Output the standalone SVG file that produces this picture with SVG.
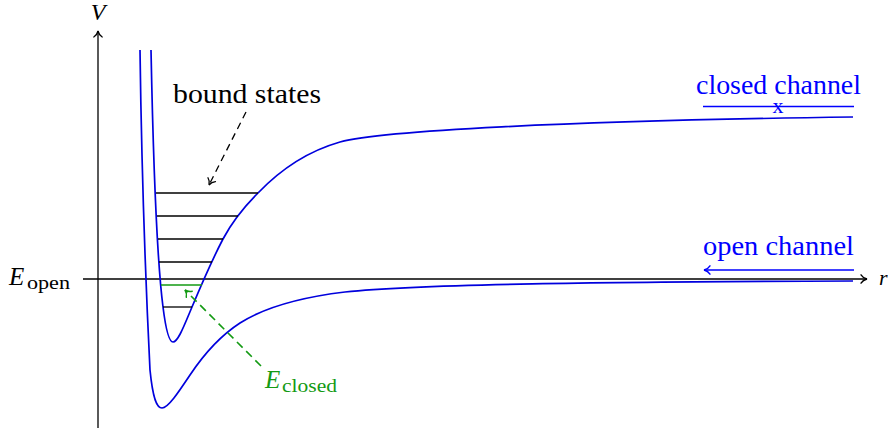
<svg xmlns="http://www.w3.org/2000/svg" width="888" height="435" viewBox="0 0 888 435" font-family="'Liberation Serif', 'DejaVu Serif', serif">
<style>
  text { font-family: "Liberation Serif", "Times New Roman", "DejaVu Serif", serif; }
  .ax { stroke: #000; stroke-width: 1.3; fill: none; }
  .curve { stroke: #0000dd; stroke-width: 1.7; fill: none; }
  .lvl { stroke: #000; stroke-width: 1.3; }
  .lvlg { stroke: #139a13; stroke-width: 1.6; }
  .blue { fill: #0000ff; }
  .green { fill: #139a13; }
  .dashk { stroke: #000; stroke-width: 1.3; stroke-dasharray: 7 5; fill: none; }
  .dashg { stroke: #139a13; stroke-width: 1.6; stroke-dasharray: 8 5; fill: none; }
</style>
<defs>
  <marker id="ak" viewBox="-8 -6 10 12" refX="0" refY="0" markerWidth="10" markerHeight="12" markerUnits="userSpaceOnUse" orient="auto">
    <path d="M-6,-4.2 C-4.5,-1.8 -1.8,-0.4 0,0 C-1.8,0.4 -4.5,1.8 -6,4.2" fill="none" stroke="#000" stroke-width="1.3" stroke-linecap="round"/>
  </marker>
  <marker id="ab" viewBox="-8 -6 10 12" refX="0" refY="0" markerWidth="10" markerHeight="12" markerUnits="userSpaceOnUse" orient="auto">
    <path d="M-6,-4.2 C-4.5,-1.8 -1.8,-0.4 0,0 C-1.8,0.4 -4.5,1.8 -6,4.2" fill="none" stroke="#0000ff" stroke-width="1.4" stroke-linecap="round"/>
  </marker>
  <marker id="ag" viewBox="-8 -6 10 12" refX="0" refY="0" markerWidth="10" markerHeight="12" markerUnits="userSpaceOnUse" orient="auto">
    <path d="M-6,-4.2 C-4.5,-1.8 -1.8,-0.4 0,0 C-1.8,0.4 -4.5,1.8 -6,4.2" fill="none" stroke="#139a13" stroke-width="1.5" stroke-linecap="round"/>
  </marker>
</defs>
<rect width="888" height="435" fill="#fff"/>

<g id="axes">
  <line class="ax" x1="98" y1="428" x2="98" y2="31" marker-end="url(#ak)"/>
  <line class="ax" x1="83" y1="279" x2="867" y2="279" marker-end="url(#ak)"/>
  <text x="98" y="20" font-size="24" font-style="italic" text-anchor="middle">V</text>
  <text x="879" y="285" font-size="22" font-style="italic">r</text>
  <text x="9" y="285" font-size="25" font-style="italic">E</text>
  <text x="27" y="289" font-size="19" textLength="43" lengthAdjust="spacingAndGlyphs">open</text>
</g>

<g id="open-channel-curve">
  <path class="curve" d="M140,50 C142,200 147,310 150,370 C153,400 157,408 162,408 C168,408 178,393 190,375 C204,354 220,336 240,323 C262,309 295,298 345,292 C420,284 600,282 853,281"/>
</g>

<g id="closed-channel-curve">
  <path class="curve" d="M151,50 C153,150 157,260 163,307 C165,323 168,342 173,342 C178,342 184,326 192,307 C200,288 212,260 223,239 C231,224 244,207 258,193 C280,170 305,152 340,142 C380,131 560,121 853,117"/>
</g>

<g id="bound-states">
  <line class="lvl" x1="156" y1="193" x2="258" y2="193"/>
  <line class="lvl" x1="157" y1="216" x2="238" y2="216"/>
  <line class="lvl" x1="158" y1="239" x2="223" y2="239"/>
  <line class="lvl" x1="159" y1="262" x2="212" y2="262"/>
  <line class="lvlg" x1="161" y1="285" x2="202" y2="285"/>
  <line class="lvl" x1="163" y1="307" x2="192" y2="307"/>
</g>

<g id="connectors">
  <line class="dashk" x1="246" y1="112" x2="209" y2="185" marker-end="url(#ak)"/>
  <line class="dashg" x1="261" y1="366" x2="185" y2="290" marker-end="url(#ag)"/>
  <line stroke="#0000ff" stroke-width="1.6" x1="854" y1="270" x2="704" y2="270" marker-end="url(#ab)"/>
</g>

<g id="label-bound-states">
  <text x="173" y="103" font-size="28" textLength="148" lengthAdjust="spacingAndGlyphs">bound states</text>
</g>

<g id="label-closed-channel">
  <text class="blue" x="696" y="94" font-size="28" textLength="165" lengthAdjust="spacingAndGlyphs">closed channel</text>
  <line stroke="#0000ff" stroke-width="1.6" x1="703" y1="106.5" x2="854" y2="106.5"/>
  <text class="blue" x="778" y="113" font-size="22" text-anchor="middle">x</text>
</g>

<g id="label-open-channel">
  <text class="blue" x="703" y="255" font-size="28" textLength="151" lengthAdjust="spacingAndGlyphs">open channel</text>
</g>

<g id="label-E-closed">
  <text class="green" x="265" y="388" font-size="25" font-style="italic">E</text>
  <text class="green" x="282" y="392" font-size="19" textLength="55" lengthAdjust="spacingAndGlyphs">closed</text>
</g>
</svg>
